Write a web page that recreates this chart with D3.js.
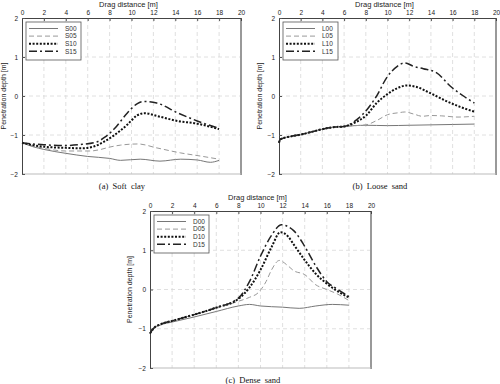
<!DOCTYPE html>
<html><head><meta charset="utf-8">
<script src="https://cdn.jsdelivr.net/npm/d3@7"></script>
<style>body{margin:0;background:#fff}svg{display:block}</style>
</head><body>
<svg id="c" width="500" height="384"></svg>
<script>
// ---- data ----
const xTicks = [0,2,4,6,8,10,12,14,16,18,20];
const yTicks = [-2,-1,0,1,2];
const xTitle = "Drag distance [m]";
const yTitle = "Penetration depth [m]";

const softNames = ["S00","S05","S10","S15"];
const softS00 = [[0,-1.2],[1,-1.3],[2,-1.37],[4,-1.47],[6,-1.55],[8,-1.6],[9,-1.65],[10.8,-1.62],[12.6,-1.67],[14.5,-1.62],[16,-1.64],[17.2,-1.7],[18,-1.65]];
const softS05 = [[0,-1.2],[1,-1.28],[2,-1.34],[4,-1.41],[6.2,-1.41],[7.2,-1.37],[8,-1.31],[9,-1.26],[10.6,-1.23],[12.3,-1.33],[14.5,-1.46],[16.3,-1.54],[18,-1.62]];
const softS10 = [[0,-1.2],[1,-1.26],[2,-1.3],[4,-1.33],[5.5,-1.34],[6.5,-1.3],[7.5,-1.17],[8.3,-1.03],[9.6,-0.74],[10.5,-0.5],[11.2,-0.44],[12.3,-0.51],[14.2,-0.64],[16,-0.71],[18,-0.85]];
const softS15 = [[0,-1.2],[1,-1.23],[2,-1.25],[4,-1.27],[5.5,-1.24],[6.8,-1.18],[7.6,-1.05],[8.5,-0.82],[9.6,-0.44],[10.5,-0.2],[11.1,-0.14],[12.3,-0.18],[14.2,-0.43],[16,-0.64],[18,-0.83]];

const looseNames = ["L00","L05","L10","L15"];
const looseBase = [[0,-1.2],[0.1,-1.12],[0.4,-1.08],[1,-1.04],[2,-0.99],[3,-0.92],[4,-0.85],[5,-0.8],[6,-0.78]];
const looseL00 = [[6,-0.78],[7,-0.76],[8,-0.75],[10,-0.76],[12,-0.75],[14,-0.74],[16,-0.73],[18,-0.72]];
const looseL05 = [[6,-0.78],[7,-0.76],[8,-0.74],[9,-0.63],[10,-0.48],[11,-0.43],[11.6,-0.41],[12.5,-0.47],[13.2,-0.52],[14,-0.5],[15,-0.51],[16.5,-0.54],[18,-0.52]];
const looseL10 = [[6,-0.78],[7,-0.68],[8.1,-0.48],[9,-0.18],[9.9,0.03],[10.9,0.2],[11.8,0.27],[12.7,0.23],[13.9,0.08],[15.5,-0.14],[16.7,-0.28],[18,-0.4]];
const looseL15 = [[6,-0.78],[7.2,-0.6],[8.1,-0.35],[9,0.0],[9.9,0.46],[10.9,0.76],[11.6,0.85],[12.4,0.76],[13.3,0.7],[14.5,0.6],[15.8,0.25],[17,0.0],[18,-0.18]];

const denseNames = ["D00","D05","D10","D15"];
const denseBase = [[0,-1.12],[0.3,-1.0],[1,-0.88],[2,-0.8],[3,-0.72],[4,-0.64]];
const denseD00 = [[0,-1.12],[0.3,-1.0],[1,-0.9],[2,-0.83],[4,-0.7],[6,-0.56],[8,-0.42],[9,-0.38],[10,-0.42],[12,-0.45],[13.5,-0.48],[15,-0.42],[16.5,-0.38],[18,-0.4]];
const denseD05 = [[4,-0.64],[6,-0.48],[8,-0.3],[9,-0.2],[9.8,-0.08],[10.5,0.2],[11,0.5],[11.7,0.74],[12.5,0.6],[13,0.48],[14,0.38],[15,0.12],[16,0.0],[17,-0.12],[18,-0.28]];
const denseD10 = [[4,-0.64],[6,-0.46],[8,-0.24],[9,0.05],[10,0.5],[11,1.08],[11.8,1.46],[12.5,1.35],[13,1.15],[14,0.75],[15,0.4],[16,0.15],[17,-0.05],[18,-0.2]];
const denseD15 = [[4,-0.64],[6,-0.46],[8,-0.22],[9,0.2],[10,0.85],[11,1.38],[11.9,1.65],[12.5,1.6],[13,1.5],[14,1.1],[15,0.6],[16,0.2],[17,0.0],[18,-0.18]];

const captions = ["(a)  Soft  clay","(b)  Loose  sand","(c)  Dense  sand"];

// ---- styles ----
const styles = [
  {stroke:"#777", width:1, dash:null},
  {stroke:"#999", width:1, dash:"5,3"},
  {stroke:"#111", width:2, dash:"2,1.6"},
  {stroke:"#222", width:1.5, dash:"8,3,2,3"}
];

const panels = [
  {L:22, R:241, T:18, B:174, names:softNames, series:[softS00,softS05,softS10,softS15], cap:captions[0], capX:122, capY:189, yLabX:6},
  {L:279, R:496, T:18, B:174, names:looseNames, series:[looseBase.concat(looseL00.slice(1)),looseBase.concat(looseL05.slice(1)),looseBase.concat(looseL10.slice(1)),looseBase.concat(looseL15.slice(1))], cap:captions[1], capX:380, capY:189, yLabX:262},
  {L:150, R:371, T:211, B:368, names:denseNames, series:[denseD00,denseBase.concat(denseD05.slice(1)),denseBase.concat(denseD10.slice(1)),denseBase.concat(denseD15.slice(1))], cap:captions[2], capX:253, capY:383, yLabX:132}
];

const svg = d3.select("#c");

panels.forEach(p => {
  const x = d3.scaleLinear().domain([0,20]).range([p.L,p.R]);
  const y = d3.scaleLinear().domain([-2,2]).range([p.B,p.T]);
  const g = svg.append("g");

  // grid
  g.selectAll(".gx").data(xTicks.slice(1,-1)).enter().append("line")
    .attr("x1",d=>x(d)).attr("x2",d=>x(d)).attr("y1",p.T).attr("y2",p.B)
    .attr("stroke","#d8d8d8").attr("stroke-dasharray","4,3").attr("stroke-width",0.8);
  g.selectAll(".gy").data(yTicks.slice(1,-1)).enter().append("line")
    .attr("y1",d=>y(d)).attr("y2",d=>y(d)).attr("x1",p.L).attr("x2",p.R)
    .attr("stroke","#d8d8d8").attr("stroke-dasharray","4,3").attr("stroke-width",0.8);

  // frame shadow lines
  g.append("line").attr("x1",p.R).attr("x2",p.R).attr("y1",p.T).attr("y2",p.B+1)
    .attr("stroke","#999").attr("stroke-width",2);
  g.append("line").attr("x1",p.L).attr("x2",p.R).attr("y1",p.B).attr("y2",p.B)
    .attr("stroke","#bbb").attr("stroke-width",1.2);

  // axes
  const top = d3.axisTop(x).tickValues(xTicks).tickSize(-3).tickPadding(3).tickFormat(d3.format("d"));
  const left = d3.axisLeft(y).tickValues(yTicks).tickSize(-3).tickPadding(4).tickFormat(d3.format("d"));
  const ga = g.append("g").attr("transform",`translate(0,${p.T})`).call(top);
  const gl = g.append("g").attr("transform",`translate(${p.L},0)`).call(left);
  [ga,gl].forEach(a=>{
    a.select(".domain").attr("stroke","#444").attr("stroke-width",1);
    a.selectAll(".tick line").attr("stroke","#555");
    a.selectAll("text").attr("font-family","Liberation Sans, Arial, sans-serif").attr("font-size",6.5).attr("fill","#222");
  });
  ga.selectAll(".tick").filter(d=>d===0||d===20).select("line").remove();

  // lines
  const line = d3.line().x(d=>x(d[0])).y(d=>y(d[1])).curve(d3.curveMonotoneX);
  p.series.forEach((s,i)=>{
    const st = styles[i];
    g.append("path").datum(s).attr("d",line).attr("fill","none")
      .attr("stroke",st.stroke).attr("stroke-width",st.width)
      .attr("stroke-dasharray",st.dash);
  });

  // legend
  const lx = p.L+4, ly = p.T+4, lw = 55, lh = 38;
  g.append("rect").attr("x",lx).attr("y",ly).attr("width",lw).attr("height",lh)
    .attr("fill","#fff").attr("stroke","#555").attr("stroke-width",0.8);
  p.names.forEach((n,i)=>{
    const yy = ly + 6.5 + i*7.6;
    const st = styles[i];
    g.append("line").attr("x1",lx+3).attr("x2",lx+32).attr("y1",yy).attr("y2",yy)
      .attr("stroke",st.stroke).attr("stroke-width",st.width).attr("stroke-dasharray",st.dash);
    g.append("text").attr("x",lx+39).attr("y",yy+2.3).text(n)
      .attr("font-family","Liberation Sans, Arial, sans-serif").attr("font-size",6.5).attr("fill","#333");
  });

  // titles
  g.append("text").attr("x",(p.L+p.R)/2-3).attr("y",p.T-11).attr("text-anchor","middle")
    .text(xTitle).attr("font-family","Liberation Sans, Arial, sans-serif").attr("font-size",7.5).attr("fill","#222");
  g.append("text").attr("transform",`translate(${p.yLabX},${(p.T+p.B)/2}) rotate(-90)`)
    .attr("text-anchor","middle").text(yTitle)
    .attr("font-family","Liberation Sans, Arial, sans-serif").attr("font-size",7).attr("fill","#222");
  g.append("text").attr("x",p.capX).attr("y",p.capY).attr("text-anchor","middle")
    .text(p.cap).attr("font-family","Liberation Serif, Times New Roman, serif").attr("font-size",8.5).attr("fill","#111")
    .attr("xml:space","preserve").style("white-space","pre");
});
</script>
</body></html>
